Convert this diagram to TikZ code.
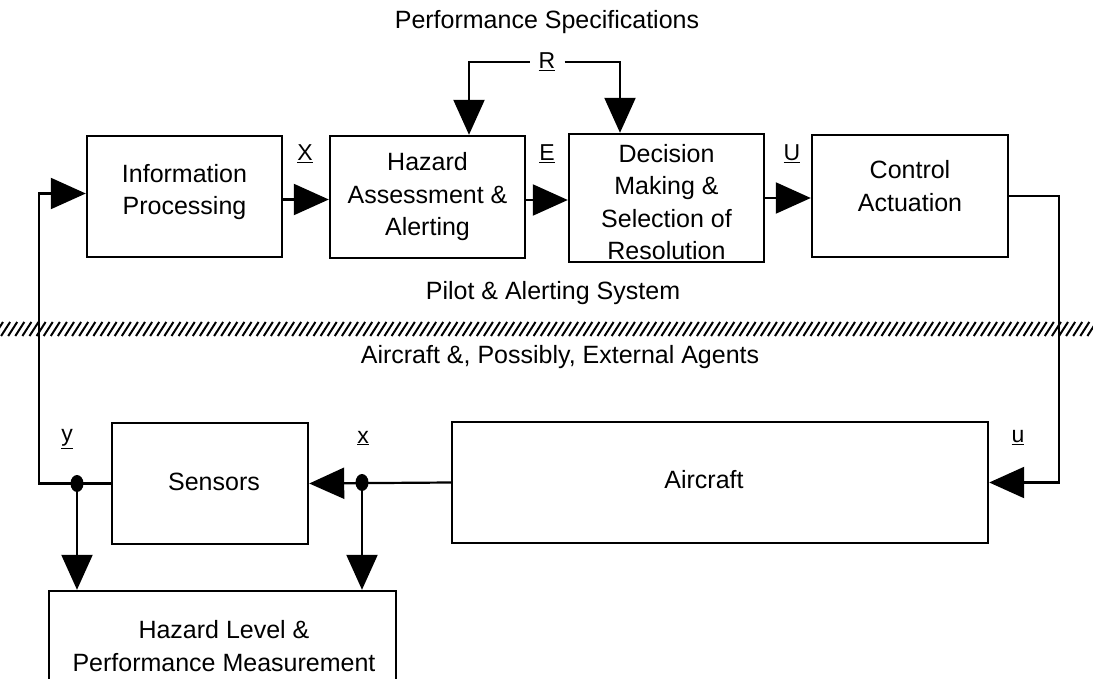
\documentclass[tikz,border=0pt]{standalone}
\usepackage{fontspec}
\setmainfont{Liberation Sans}
\usetikzlibrary{arrows.meta,calc,shapes.geometric}
\begin{document}
\begin{tikzpicture}[x=1pt,y={(0pt,-1pt)},
  box/.style={draw,line width=2.4pt,minimum width=195pt,inner sep=0pt},
  txt/.style={align=center,font=\fontsize{25}{32.5}\selectfont,inner sep=0pt},
  lab/.style={font=\fontsize{23}{27}\selectfont,inner sep=3pt},
  arr/.style={line width=2.2pt,-{Triangle[length=35pt,width=31pt]}},
  hatch/.style={line width=2pt},
  dot/.style={fill,ellipse,minimum width=13pt,minimum height=17pt,inner sep=0pt}]
\useasboundingbox (0,0) rectangle (1093,679);
\clip (0,0) rectangle (1093,679);
\fill[white] (0,0) rectangle (1093,679);
% boxes
\node[box,minimum height=121pt] (info) at (184.5,196.5) {};
\node[box,minimum height=122pt] (haz) at (427.5,197) {};
\node[box,minimum height=128pt] (dec) at (666.5,198) {};
\node[box,minimum width=196pt,minimum height=122pt] (ctrl) at (910,196) {};
\node[box,minimum width=196pt,minimum height=121pt] (sens) at (210,483.5) {};
\node[box,minimum width=536pt,minimum height=121pt] (air) at (720,482.5) {};
\node[box,minimum width=347pt,minimum height=140pt] (hlm) at (222.5,661) {};
% texts
\node[txt] (infot) at (184.5,192) {Information\\Processing};
\node[txt] (hazt) at (427.5,197) {Hazard\\Assessment \&\\Alerting};
\node[txt] (dect) at (666.5,202) {Decision\\Making \&\\Selection of\\Resolution};
\node[txt] (ctrlt) at (910,186) {Control\\Actuation};
\node[txt] (senst) at (214,482) {Sensors};
\node[txt] (airt) at (704,480) {Aircraft};
\node[txt] (hlmt) at (224,646) {Hazard Level \&\\Performance Measurement};
\node[txt] (perf) at (547,22) {Performance Specifications};
\node[txt] (pilot) at (553,293) {Pilot \& Alerting System};
\node[txt] (ext) at (560,357) {Aircraft \&, Possibly, External Agents};
% labels
\node[lab] (rlab) at (547,62) {\underline{R}};
\node[lab] (xlab) at (305,154) {\underline{X}};
\node[lab] (elab) at (547,154) {\underline{E}};
\node[lab] (ulab) at (792,154) {\underline{U}};
\node[lab] (ylo) at (67,439) {\underline{y}};
\node[lab] (xlo) at (363,438) {\underline{x}};
\node[lab] (ulo) at (1018,438) {\underline{u}};
% hatched band
\foreach \i in {0,...,155} {
  \draw[hatch] ({\i*7.1-6},336) -- ({\i*7.1+3},322);
}
% R connectors
\draw[arr] ([xshift=-6pt]rlab.west) -| ([xshift=41.5pt]haz.north);
\draw[arr] ([xshift=6pt]rlab.east) -| ([xshift=-46.5pt]dec.north);
% forward chain
\draw[arr] ([yshift=-3pt]info.east) -- ([yshift=-3pt]info.east -| haz.west);
\draw[arr] ([yshift=-3pt]haz.east) -- ([yshift=-3pt]haz.east -| dec.west);
\draw[arr] (dec.east) -- (dec.east -| ctrl.west);
\draw[arr] (ctrl.east) -- ++(50,0) |- (air.east);
\draw[arr] (air.west) -- (sens.east);
\draw[arr] (sens.west) -- ++(-72,0) |- ([yshift=3pt]info.west);
% junctions
\node[dot] (dy) at (77,483.5) {};
\node[dot] (dx) at (362,482.5) {};
\draw[arr] (dy.center) -- (dy.center |- hlm.north);
\draw[arr] (dx.center) -- (dx.center |- hlm.north);
\end{tikzpicture}
\end{document}
